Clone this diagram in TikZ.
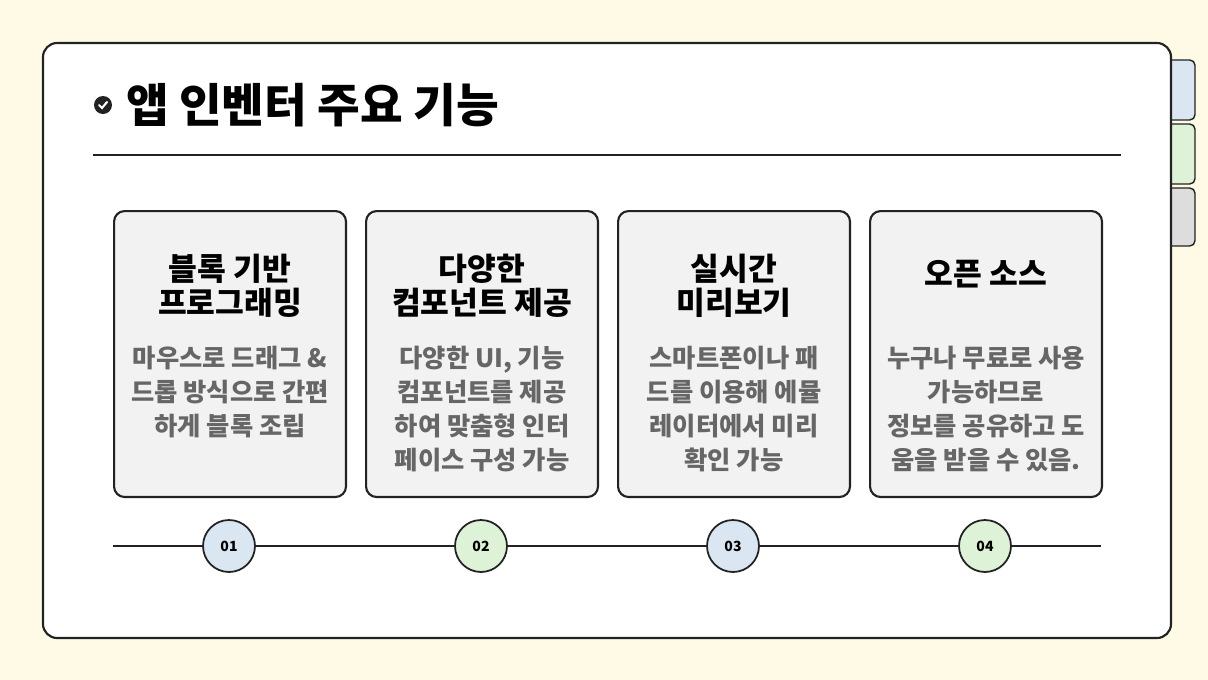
\documentclass[tikz,border=0pt]{standalone}
\usepackage{fontspec}
\setmainfont{Noto Sans CJK KR}
\usepackage{tikz}
\usetikzlibrary{positioning, calc}
\definecolor{bgColor}{HTML}{FFFAE6}
\definecolor{drawColor}{HTML}{222222}
\definecolor{boxFill}{HTML}{F2F2F2}
\definecolor{bodyColor}{HTML}{666666}
\definecolor{blueFill}{HTML}{DAE6F2}
\definecolor{greenFill}{HTML}{DDF2D6}
\definecolor{greyFill}{HTML}{DDDDDD}
\tikzstyle{card}=[draw=drawColor, line width=1.2pt, rounded corners=8pt, fill=white]
\tikzstyle{tab}=[draw=drawColor, line width=0.8pt, rounded corners=3pt]
\tikzstyle{feature}=[draw=drawColor, line width=1.2pt, rounded corners=6pt, fill=boxFill,
  minimum width=4.64cm, minimum height=5.72cm, anchor=north west]
\tikzstyle{heading}=[align=center, font=\bfseries\fontsize{17.8}{19.5}\selectfont, text=black]
\tikzstyle{body}=[align=center, font=\bfseries\fontsize{14.4}{19.5}\selectfont, text=bodyColor]
\tikzstyle{stepdot}=[circle, draw=drawColor, line width=1pt, minimum size=1.04cm, inner sep=0pt,
  font=\bfseries\fontsize{8}{9}\selectfont]
\begin{document}
\begin{tikzpicture}[x=0.02cm, y=-0.02cm]
      \fill[bgColor] (0,0) rectangle (1208,680);
      % tabs
      \draw[tab, fill=blueFill] (1160,60) rectangle (1195,120);
      \draw[tab, fill=greenFill] (1160,124) rectangle (1195,184);
      \draw[tab, fill=greyFill] (1160,188) rectangle (1195,246);
      \draw[card] (43,43) rectangle (1171,638);
      % title
      \node(icon) at (103,105) [circle, fill=drawColor, minimum size=0.36cm, inner sep=0pt] {};
      \draw[white, line width=1.2pt, line cap=round] ($(icon)+(-4,0)$) -- ($(icon)+(-1,3)$) -- ($(icon)+(4,-3)$);
      \node(title) [right=0.15cm of icon, font=\bfseries\fontsize{26.4}{30}\selectfont] {앱 인벤터 주요 기능};
      \coordinate(ruleL) at (93,155);
      \coordinate(ruleR) at (1121,155);
      \draw[drawColor, line width=0.8pt] (ruleL) -- (ruleR);
      % feature boxes
      \node(f1) at (113,210) [feature] {};
      \node(f2) at (365,210) [feature] {};
      \node(f3) at (617,210) [feature] {};
      \node(f4) at (869,210) [feature] {};
      \node(h1) at ($(f1.north)+(0,76)$) [heading] {블록 기반\\프로그래밍};
      \node(h2) at ($(f2.north)+(0,76)$) [heading] {다양한\\컴포넌트 제공};
      \node(h3) at ($(f3.north)+(0,76)$) [heading] {실시간\\미리보기};
      \node(h4) at ($(f4.north)+(0,64)$) [heading] {오픈 소스};
      \node(b1) at ($(f1.north)+(0,182)$) [body] {마우스로 드래그 \&\\드롭 방식으로 간편\\하게 블록 조립};
      \node(b2) at ($(f2.north)+(0,199)$) [body] {다양한 UI, 기능\\컴포넌트를 제공\\하여 맞춤형 인터\\페이스 구성 가능};
      \node(b3) at ($(f3.north)+(0,199)$) [body] {스마트폰이나 패\\드를 이용해 에뮬\\레이터에서 미리\\확인 가능};
      \node(b4) at ($(f4.north)+(0,199)$) [body] {누구나 무료로 사용\\가능하므로\\정보를 공유하고 도\\움을 받을 수 있음.};
      % timeline
      \coordinate(lineL) at (113,546);
      \coordinate(lineR) at (1101,546);
      \draw[drawColor, line width=0.8pt] (lineL) -- (lineR);
      \node(n1) at (229,546) [stepdot, fill=blueFill] {01};
      \node(n2) at (481,546) [stepdot, fill=greenFill] {02};
      \node(n3) at (733,546) [stepdot, fill=blueFill] {03};
      \node(n4) at (985,546) [stepdot, fill=greenFill] {04};
    \end{tikzpicture}
\end{document}
